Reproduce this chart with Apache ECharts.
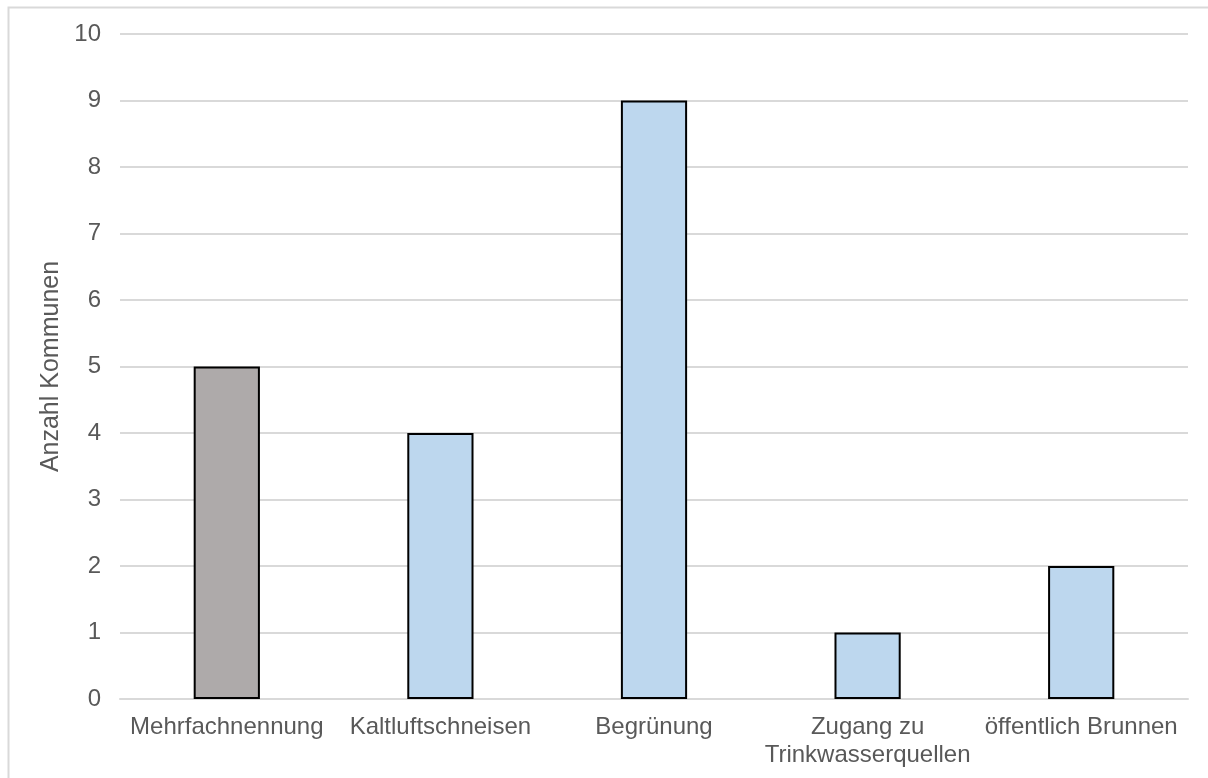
<!DOCTYPE html>
<html>
<head>
<meta charset="utf-8">
<script src="https://cdn.jsdelivr.net/npm/echarts@6/dist/echarts.min.js"></script>
<style>html,body{margin:0;padding:0;background:#fff;}#c{width:1208px;height:778px;}</style>
</head>
<body>
<div id="c"></div>
<script>
const categories = ['Mehrfachnennung', 'Kaltluftschneisen', 'Begrünung', 'Zugang zu\nTrinkwasserquellen', 'öffentlich Brunnen'];
const values = [5, 4, 9, 1, 2];
const barColors = ['#AEAAAA', '#BDD7EE', '#BDD7EE', '#BDD7EE', '#BDD7EE'];
const yAxisName = 'Anzahl Kommunen';

const chart = echarts.init(document.getElementById('c'), null, {renderer: 'canvas'});
const font = 'Arial, "Liberation Sans", sans-serif';
chart.setOption({
  animation: false,
  backgroundColor: '#fff',
  graphic: [{
    type: 'rect', left: 6, top: 5,
    shape: {width: 1300, height: 900},
    style: {fill: 'none', stroke: '#D9D9D9', lineWidth: 2},
    silent: true, z: -1
  }],
  grid: {left: 120, right: 20, top: 34, bottom: 79, containLabel: false, outerBoundsMode: 'none'},
  xAxis: {
    type: 'category',
    data: categories,
    axisLine: {lineStyle: {color: '#D9D9D9', width: 2}},
    axisTick: {show: false},
    axisLabel: {color: '#595959', fontSize: 24, fontFamily: font, margin: 14, lineHeight: 28, interval: 0}
  },
  yAxis: {
    type: 'value', min: 0, max: 10, interval: 1,
    name: yAxisName, nameLocation: 'middle', nameGap: 54, nameRotate: 90,
    nameTextStyle: {color: '#595959', fontSize: 25, fontFamily: font},
    axisLine: {show: false}, axisTick: {show: false},
    axisLabel: {color: '#595959', fontSize: 24, fontFamily: font, margin: 19},
    splitLine: {lineStyle: {color: '#D9D9D9', width: 2}}
  },
  series: [{
    type: 'bar',
    data: values.map((v, i) => ({value: v, itemStyle: {color: barColors[i]}})),
    barWidth: '31%',
    itemStyle: {borderColor: '#000', borderWidth: 2}
  }]
});
</script>
</body>
</html>
